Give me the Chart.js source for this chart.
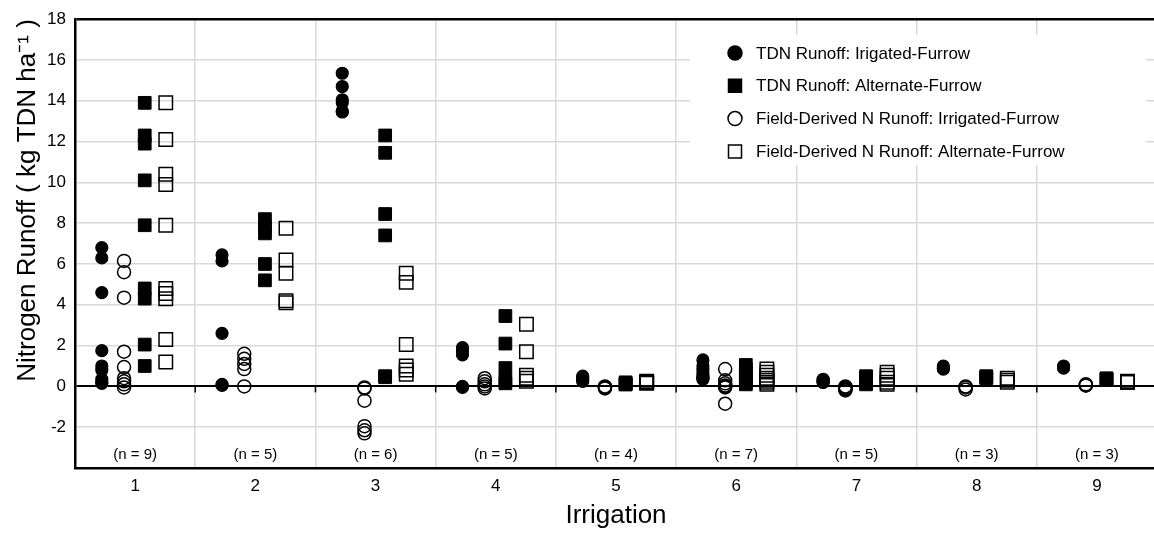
<!DOCTYPE html>
<html>
<head>
<meta charset="utf-8">
<script src="https://cdn.jsdelivr.net/npm/chart.js@4/dist/chart.umd.min.js"></script>
<style>
  html, body { margin: 0; padding: 0; background: #fff; overflow: hidden; }
  canvas { display: block; }
</style>
</head>
<body>
<canvas id="grafico" width="1168" height="533"></canvas>
<script>
// irrigation events and sample counts
const irrigacoes = [1, 2, 3, 4, 5, 6, 7, 8, 9];
const nAmostras = [9, 5, 6, 5, 4, 7, 5, 3, 3];
const yTicks = [-4, -2, 0, 2, 4, 6, 8, 10, 12, 14, 16, 18];

// values per irrigation (kg TDN / ha)
const tdnIrrigado = [
  [6.8, 6.3, 4.6, 1.75, 1.0, 0.8, 0.35, 0.2, 0.15],
  [6.45, 6.15, 2.6, 0.1, 0.05],
  [15.35, 14.7, 14.05, 13.9, 13.5, 13.45],
  [1.9, 1.75, 1.55, 0.0, -0.05],
  [0.5, 0.4, 0.3, 0.25],
  [1.3, 1.0, 0.8, 0.6, 0.45, 0.4, 0.35],
  [0.35, 0.3, 0.25, 0.2, 0.2],
  [1.0, 0.9, 0.85],
  [1.0, 0.95, 0.9]
];
const tdnAlternado = [
  [13.9, 12.3, 11.9, 10.1, 7.9, 4.8, 4.3, 2.05, 1.0],
  [8.2, 7.8, 7.5, 6.0, 5.2],
  [12.3, 11.45, 8.45, 7.4, 0.5, 0.45],
  [3.45, 2.1, 0.9, 0.3, 0.15],
  [0.2, 0.15, 0.1, 0.1],
  [1.05, 0.85, 0.7, 0.5, 0.35, 0.2, 0.1],
  [0.5, 0.4, 0.3, 0.2, 0.1],
  [0.5, 0.45, 0.4],
  [0.4, 0.35, 0.35]
];
const campoIrrigado = [
  [6.15, 5.6, 4.35, 1.7, 0.95, 0.4, 0.25, 0.1, -0.05],
  [1.6, 1.35, 1.1, 0.85, 0.0],
  [-0.05, -0.1, -0.7, -1.95, -2.15, -2.3],
  [0.4, 0.25, 0.1, 0.0, -0.1],
  [0.0, -0.05, -0.1, -0.05],
  [0.85, 0.3, 0.15, 0.05, 0.0, -0.05, -0.85],
  [0.0, -0.05, -0.1, -0.15, -0.2],
  [0.0, -0.05, -0.15],
  [0.1, 0.05, 0.05]
];
const campoAlternado = [
  [13.9, 12.1, 10.4, 9.9, 7.9, 4.8, 4.55, 4.3, 2.3, 1.2],
  [7.75, 6.2, 5.55, 4.2, 4.1],
  [5.55, 5.1, 2.05, 1.0, 0.8, 0.6],
  [3.05, 1.7, 0.55, 0.4, 0.25],
  [0.25, 0.2, 0.2, 0.15],
  [0.85, 0.7, 0.55, 0.4, 0.3, 0.2, 0.1],
  [0.7, 0.55, 0.4, 0.2, 0.1],
  [0.4, 0.3, 0.2],
  [0.25, 0.2, 0.2]
];

const nomesSeries = [
  'TDN Runoff: Irigated-Furrow',
  'TDN Runoff: Alternate-Furrow',
  'Field-Derived N Runoff: Irrigated-Furrow',
  'Field-Derived N Runoff: Alternate-Furrow'
];

const FONTE = '"Liberation Sans", Arial, sans-serif';

// turn per-irrigation lists into scatter points, shifted inside each group
function pontos(valores, deslocamento) {
  const out = [];
  valores.forEach((lista, i) => {
    lista.forEach(v => out.push({ x: irrigacoes[i] + deslocamento, y: v }));
  });
  return out;
}

const estilos = [
  { style: 'circle', r: 6, fill: '#000', bw: 1.2, dx: -0.277 },
  { style: 'rect', r: 9, fill: '#000', bw: 1, dx: 0.08 },
  { style: 'circle', r: 6.5, fill: 'rgba(0,0,0,0)', bw: 1.5, dx: -0.092 },
  { style: 'rect', r: 9.5, fill: 'rgba(0,0,0,0)', bw: 1.5, dx: 0.255 }
];
const series = [tdnIrrigado, tdnAlternado, campoIrrigado, campoAlternado];

const datasets = series.map((s, k) => ({
  label: nomesSeries[k],
  data: pontos(s, estilos[k].dx),
  pointStyle: estilos[k].style,
  pointRadius: estilos[k].r,
  pointBackgroundColor: estilos[k].fill,
  pointBorderColor: '#000',
  pointBorderWidth: estilos[k].bw,
  showLine: false
}));

// n labels, zero-line ticks and the legend box
const extras = {
  id: 'extras',
  afterDatasetsDraw(chart) {
    const ctx = chart.ctx;
    const x = chart.scales.x, y = chart.scales.y;
    ctx.save();
    // little ticks on the zero line
    const y0 = y.getPixelForValue(0);
    ctx.strokeStyle = '#000';
    ctx.lineWidth = 1.5;
    for (let i = 1; i < irrigacoes.length; i++) {
      const px = x.getPixelForValue(irrigacoes[i] - 0.5);
      ctx.beginPath();
      ctx.moveTo(px, y0);
      ctx.lineTo(px, y0 + 6);
      ctx.stroke();
    }
    // (n = ..)
    ctx.fillStyle = '#000';
    ctx.font = '15px ' + FONTE;
    ctx.textAlign = 'center';
    ctx.textBaseline = 'middle';
    nAmostras.forEach((n, i) => {
      ctx.fillText('(n = ' + n + ')', x.getPixelForValue(irrigacoes[i]), y.getPixelForValue(-3.35));
    });

    // legend
    ctx.fillStyle = '#fff';
    ctx.fillRect(690, 35, 456, 130);
    ctx.font = '17px ' + FONTE;
    ctx.textAlign = 'left';
    const mx = 735;
    datasets.forEach((d, k) => {
      const ly = 53 + k * 32.8;
      ctx.fillStyle = '#000';
      ctx.strokeStyle = '#000';
      ctx.lineWidth = 1.5;
      ctx.beginPath();
      if (estilos[k].style === 'circle') {
        ctx.arc(mx, ly, 7, 0, Math.PI * 2);
      } else {
        ctx.rect(mx - 6.5, ly - 6.5, 13, 13);
      }
      if (k < 2) ctx.fill();
      ctx.stroke();
      ctx.fillStyle = '#000';
      ctx.fillText(d.label, 756, ly + 1);
    });
    ctx.restore();
  }
};

const ctx = document.getElementById('grafico').getContext('2d');
new Chart(ctx, {
  type: 'scatter',
  data: { datasets: datasets },
  options: {
    responsive: false,
    animation: false,
    layout: { padding: { top: 17, right: 3, left: 0, bottom: 0 } },
    plugins: {
      legend: { display: false },
      tooltip: { enabled: false }
    },
    scales: {
      x: {
        type: 'linear',
        min: 0.5,
        max: 9.5,
        afterBuildTicks: (scale) => { scale.ticks = irrigacoes.map(v => ({ value: v })); },
        afterFit: (scale) => { scale.height = 65; },
        grid: { offset: true, color: '#d9d9d9', lineWidth: 1.5, drawTicks: false },
        border: { color: '#000', width: 2.5 },
        ticks: {
          color: '#000',
          font: { family: FONTE, size: 17 },
          padding: 8,
          callback: (v) => String(v)
        },
        title: {
          display: true,
          text: 'Irrigation',
          color: '#000',
          font: { family: FONTE, size: 26 },
          padding: { top: 0, bottom: 2 }
        }
      },
      y: {
        min: -4,
        max: 18,
        afterBuildTicks: (scale) => { scale.ticks = yTicks.map(v => ({ value: v })); },
        afterFit: (scale) => { scale.width = 75; },
        grid: {
          drawTicks: false,
          color: (c) => (c.tick && (c.tick.value === 0 || c.tick.value === 18)) ? '#000' : (c.tick && c.tick.value === -4 ? 'rgba(0,0,0,0)' : '#d9d9d9'),
          lineWidth: (c) => (c.tick && c.tick.value === 18) ? 2.5 : ((c.tick && c.tick.value === 0) ? 2 : 1.5)
        },
        border: { color: '#000', width: 2.5 },
        ticks: {
          color: '#000',
          font: { family: FONTE, size: 17 },
          padding: 9,
          callback: (v) => v === -4 ? '' : String(v)
        },
        title: {
          display: true,
          text: 'Nitrogen Runoff ( kg TDN ha⁻¹ )',
          align: 'end',
          color: '#000',
          font: { family: FONTE, size: 26 },
          padding: { top: 12, bottom: 0 }
        }
      }
    }
  },
  plugins: [extras]
});
</script>
</body>
</html>
